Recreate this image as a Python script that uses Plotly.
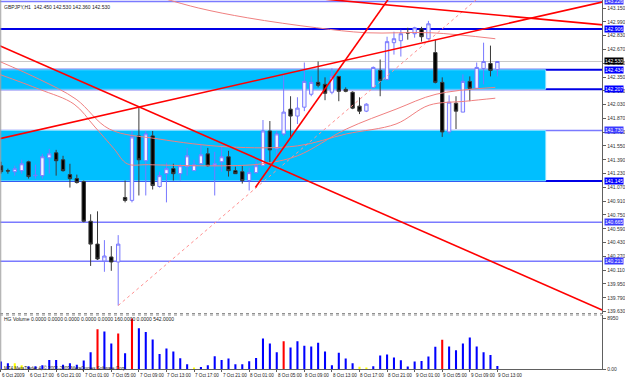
import plotly.graph_objects as go

# ---------------- data ----------------
bars = list(range(73))  # hourly bars from 6 Oct 2009 13:00 to 9 Oct 2009 13:00

opens = [141.321,141.264,141.252,141.264,141.367,141.206,141.206,141.413,141.471,141.390,
         141.218,141.172,141.137,140.677,140.412,140.217,140.263,140.205,140.953,140.919,
         141.667,141.379,141.667,141.080,141.229,141.287,141.229,141.310,141.264,141.344,
         141.459,141.321,141.367,141.425,141.264,141.252,141.149,141.241,141.321,141.724,
         141.517,141.690,141.977,141.897,142.000,142.150,142.288,142.265,142.173,142.357,
         142.207,142.173,142.012,141.954,142.230,142.426,142.322,142.748,142.771,142.863,
         142.852,142.909,142.794,142.633,142.288,141.713,142.046,141.943,142.299,142.219,
         142.449,142.507,142.438]
highs = [141.367,141.287,141.321,141.390,141.379,141.333,141.459,141.517,141.505,141.436,
         141.344,141.218,141.149,140.758,140.792,140.458,140.389,140.516,141.149,141.724,
         142.000,141.724,141.724,141.252,141.356,141.344,141.344,141.528,141.390,141.575,
         141.528,141.482,141.540,141.494,141.310,141.321,141.298,141.379,141.851,141.839,
         141.724,142.380,142.127,142.115,142.518,142.357,142.530,142.346,142.449,142.357,
         142.230,142.184,142.115,142.046,142.472,142.553,142.817,142.875,142.898,142.921,
         142.932,142.932,143.001,142.783,142.346,142.138,142.127,142.380,142.357,142.518,
         142.748,142.714,142.530]
lows = [141.229,141.229,141.206,141.229,141.172,141.172,141.172,141.229,141.206,141.252,
        141.068,141.114,140.665,140.159,140.228,140.091,140.102,139.699,140.896,140.896,
        140.976,140.976,141.045,141.068,140.896,141.149,141.149,141.206,141.264,141.333,
        141.310,140.976,141.252,141.195,141.229,141.114,141.034,141.229,141.321,141.344,
        141.436,141.667,141.655,141.805,141.954,142.127,142.230,142.081,142.150,142.069,
        142.173,141.977,141.920,141.943,142.219,142.127,142.311,142.610,142.587,142.783,
        142.806,142.760,142.783,142.276,141.655,141.690,141.747,141.943,142.069,142.219,
        142.265,142.357,142.357]
closes = [141.252,141.260,141.287,141.344,141.195,141.210,141.425,141.459,141.379,141.264,
          141.172,141.126,140.677,140.412,140.240,140.274,140.205,140.412,140.919,141.655,
          141.390,141.690,141.091,141.206,141.287,141.229,141.321,141.436,141.333,141.448,
          141.321,141.344,141.425,141.264,141.229,141.149,141.241,141.321,141.724,141.505,
          141.690,141.943,141.897,141.989,142.299,142.288,142.253,142.161,142.357,142.184,
          142.184,141.989,141.954,142.035,142.461,142.311,142.760,142.794,142.852,142.860,
          142.921,142.817,142.967,142.288,141.713,142.058,141.954,142.299,142.219,142.461,
          142.530,142.426,142.530]

volumes = [1340,1050,1050,700,500,520,700,1620,1620,750,
           1050,750,1520,2970,7030,6630,4540,6280,2790,8950,
           7210,6580,5240,2670,3660,3090,1920,870,230,350,
           700,2270,1620,1870,870,870,1400,1970,5410,4540,
           2970,4940,3840,4940,4140,4010,4660,3090,700,2910,
           1870,1050,400,175,520,2390,2570,2040,1570,470,
           1340,1450,2220,3960,5180,4010,3320,4540,5580,4010,
           2970,2500,542]
red_bars = [14, 17, 19, 41, 64]
yellow_bars = [2, 3, 28, 52, 53]

time_label_bars = [0, 4, 8, 12, 16, 20, 24, 28, 32, 36, 40, 44, 48, 52, 56, 60, 64, 68, 72]
time_labels = ["6 Oct 2009", "6 Oct 17:00", "6 Oct 21:00", "7 Oct 01:00", "7 Oct 05:00",
               "7 Oct 09:00", "7 Oct 13:00", "7 Oct 17:00", "7 Oct 21:00", "8 Oct 01:00",
               "8 Oct 05:00", "8 Oct 09:00", "8 Oct 13:00", "8 Oct 17:00", "8 Oct 21:00",
               "9 Oct 01:00", "9 Oct 05:00", "9 Oct 09:00", "9 Oct 13:00"]

price_ticks = [139.630,139.790,139.950,140.110,140.270,140.430,140.590,140.750,140.910,
               141.070,141.230,141.390,141.550,141.710,141.870,142.030,142.190,142.350,
               142.510,142.670,142.830,142.990,143.150]

# horizontal levels (price, colour kind)
levels = [143.226, 142.906, 142.434, 142.207, 141.730, 141.145, 140.665, 140.213]
level_dark = [False, True, True, True, False, True, False, False]
# zones (bottom, top)
zones = [(142.207, 142.434), (141.145, 141.730)]
zone_end_bar = 79.0
current_price = 142.530

# moving averages (bar, price)
ma_a_bar = [-0.2, 5.6, 10.6, 13.5, 16.4, 18.3, 21.4, 32.9, 37.9, 43.0, 50.1, 57.3, 63.1, 71.7]
ma_a_price = [142.380, 142.207, 142.035, 141.782, 141.517, 141.344, 141.333, 141.321,
              141.344, 141.436, 141.747, 141.977, 142.150, 142.230]
ma_b_bar = [-0.2, 5.6, 10.9, 15.7, 22.8, 32.9, 43.0, 50.1, 57.3, 62.1, 67.4, 71.7]
ma_b_price = [142.530, 142.322, 142.092, 141.747, 141.632, 141.540, 141.551, 141.690,
              141.805, 142.023, 142.069, 142.104]
ma_c_bar = [22.8, 28.6, 35.8, 45.8, 53.0, 62.4, 71.7]
ma_c_price = [143.280, 143.151, 143.036, 142.921, 142.863, 142.863, 142.794]

# trend lines (bar, price)
trend1_bar = [-1, 90]
trend1_price = [142.74, 139.55]
trend2_bar = [-1, 90]
trend2_price = [141.62, 143.27]
trend3_bar = [36.9, 56.6]
trend3_price = [141.068, 143.30]
trend4_bar = [46.0, 90]
trend4_price = [143.26, 142.935]
dotted_bar = [17, 69]
dotted_price = [139.70, 143.25]

PMIN, PMAX = 139.607, 143.243
XR = [-0.144, 87.2]
XD = [0, 608 / 625]
FONT = "Liberation Sans"

fig = go.Figure()

# moving averages
for bx, py in [(ma_a_bar, ma_a_price), (ma_b_bar, ma_b_price), (ma_c_bar, ma_c_price)]:
    fig.add_trace(go.Scatter(x=bx, y=py, mode="lines", line=dict(color="#f08080", width=1, shape="spline"),
                             hoverinfo="skip", xaxis="x", yaxis="y"))

fig.add_trace(go.Scatter(x=dotted_bar, y=dotted_price, mode="lines",
                         line=dict(color="#ff9090", width=1, dash="dot"), hoverinfo="skip"))

fig.add_trace(go.Candlestick(
    x=bars, open=opens, high=highs, low=lows, close=closes,
    increasing=dict(line=dict(color="#7878ff", width=1), fillcolor="#f4f4ff"),
    decreasing=dict(line=dict(color="#3a3a3a", width=1), fillcolor="#000000"),
    whiskerwidth=0, hoverinfo="skip", xaxis="x", yaxis="y"))

for bx, py in [(trend1_bar, trend1_price), (trend2_bar, trend2_price),
               (trend3_bar, trend3_price), (trend4_bar, trend4_price)]:
    fig.add_trace(go.Scatter(x=bx, y=py, mode="lines", line=dict(color="#ff0000", width=1.6),
                             hoverinfo="skip"))

vol_colors = ["#ff0000" if i in red_bars else ("#ffff00" if i in yellow_bars else "#0000ff")
              for i in bars]
fig.add_trace(go.Bar(x=bars, y=volumes, marker=dict(color=vol_colors, line=dict(width=0)),
                     width=0.3, xaxis="x2", yaxis="y2", hoverinfo="skip"))

shapes = []
for lo, hi in zones:
    shapes.append(dict(type="rect", xref="x", yref="y", x0=-5, x1=zone_end_bar, y0=lo, y1=hi,
                       fillcolor="#00bfff", line=dict(color="#80dfff", width=1), layer="below"))
for lv, dark in zip(levels, level_dark):
    shapes.append(dict(type="line", xref="x domain", yref="y", x0=0, x1=1, y0=lv, y1=lv,
                       line=dict(color="#0000e6" if dark else "#7a7aff", width=2 if dark else 1.6),
                       layer="below"))
shapes.append(dict(type="line", xref="x domain", yref="y", x0=0, x1=1, y0=current_price,
                   y1=current_price, line=dict(color="#c8c8c8", width=1), layer="below"))
# panel separators and frame
for yy in [(383 - 316) / 383, (383 - 317.5) / 383]:
    shapes.append(dict(type="line", xref="paper", yref="paper", x0=0, x1=XD[1], y0=yy, y1=yy,
                       line=dict(color="#909090", width=1, dash="dot")))
shapes.append(dict(type="line", xref="paper", yref="paper", x0=0.0012, x1=0.0012, y0=11 / 383, y1=1,
                   line=dict(color="#a0a0a0", width=1)))

annotations = []
for lv, dark in zip(levels, level_dark):
    annotations.append(dict(xref="paper", yref="y", x=609.5 / 625, y=lv, xanchor="left", yanchor="middle",
                            text=f"{lv:.3f}", showarrow=False, bgcolor="#0000ff" if dark else "#3c3cff",
                            font=dict(family=FONT, size=5, color="white"), borderpad=0))
annotations.append(dict(xref="paper", yref="y", x=609.5 / 625, y=current_price, xanchor="left",
                        yanchor="middle", text=f"{current_price:.3f}", showarrow=False, bgcolor="#000000",
                        font=dict(family=FONT, size=5, color="white"), borderpad=0))
annotations.append(dict(xref="paper", yref="paper", x=2 / 625, y=1 - 2 / 383, xanchor="left", yanchor="top",
                        text="GBPJPY,H1  142.450 142.530 142.360 142.530", showarrow=False,
                        font=dict(family=FONT, size=5, color="#202020")))
annotations.append(dict(xref="paper", yref="paper", x=2 / 625, y=(383 - 322) / 383, xanchor="left",
                        yanchor="middle",
                        text="HG Volume 0.0000 0.0000 0.0000 0.0000 0.0000 160.0000 0.0000 542.0000",
                        showarrow=False, font=dict(family=FONT, size=5, color="#202020")))
annotations.append(dict(xref="paper", yref="paper", x=2 / 625, y=(383 - 371) / 383, xanchor="left",
                        yanchor="middle", text="MT4 MetaTrader 4, © 2001-2009 MetaQuotes Software Corp.",
                        showarrow=False, font=dict(family=FONT, size=4.5, color="#202020")))
for b, t in zip(time_label_bars, time_labels):
    annotations.append(dict(xref="x2", yref="paper", x=b, y=5 / 383, xanchor="left", yanchor="middle",
                            text=t, showarrow=False, xshift=-1,
                            font=dict(family=FONT, size=4.6, color="#202020")))

fig.update_layout(
    width=625, height=383, margin=dict(l=0, r=0, t=0, b=0),
    paper_bgcolor="white", plot_bgcolor="white", showlegend=False,
    shapes=shapes, annotations=annotations, boxgap=0.3,
    xaxis=dict(domain=XD, range=XR, anchor="y", showticklabels=False, showgrid=False, zeroline=False,
               rangeslider=dict(visible=False), showline=False, fixedrange=True),
    yaxis=dict(domain=[67 / 383, 1], range=[PMIN, PMAX], anchor="x", side="right",
               tickvals=price_ticks, ticktext=[f"{v:.3f}" for v in price_ticks],
               ticks="outside", ticklen=3, tickcolor="#606060", showline=True, linecolor="#606060",
               showgrid=False, zeroline=False, tickfont=dict(family=FONT, size=5, color="#303030")),
    xaxis2=dict(domain=XD, range=XR, anchor="y2", showticklabels=False, showgrid=False, zeroline=False,
                tickvals=time_label_bars, ticks="outside", ticklen=2, tickcolor="#606060",
                showline=True, linecolor="#606060"),
    yaxis2=dict(domain=[11 / 383, 66 / 383], range=[0, 9652], anchor="x2", side="right",
                tickvals=[0, 8950], ticktext=["0.00", "8950"], ticks="outside", ticklen=3,
                tickcolor="#606060", showline=True, linecolor="#606060", showgrid=False, zeroline=False,
                tickfont=dict(family=FONT, size=5, color="#303030")),
)

fig.write_html("out.html")
